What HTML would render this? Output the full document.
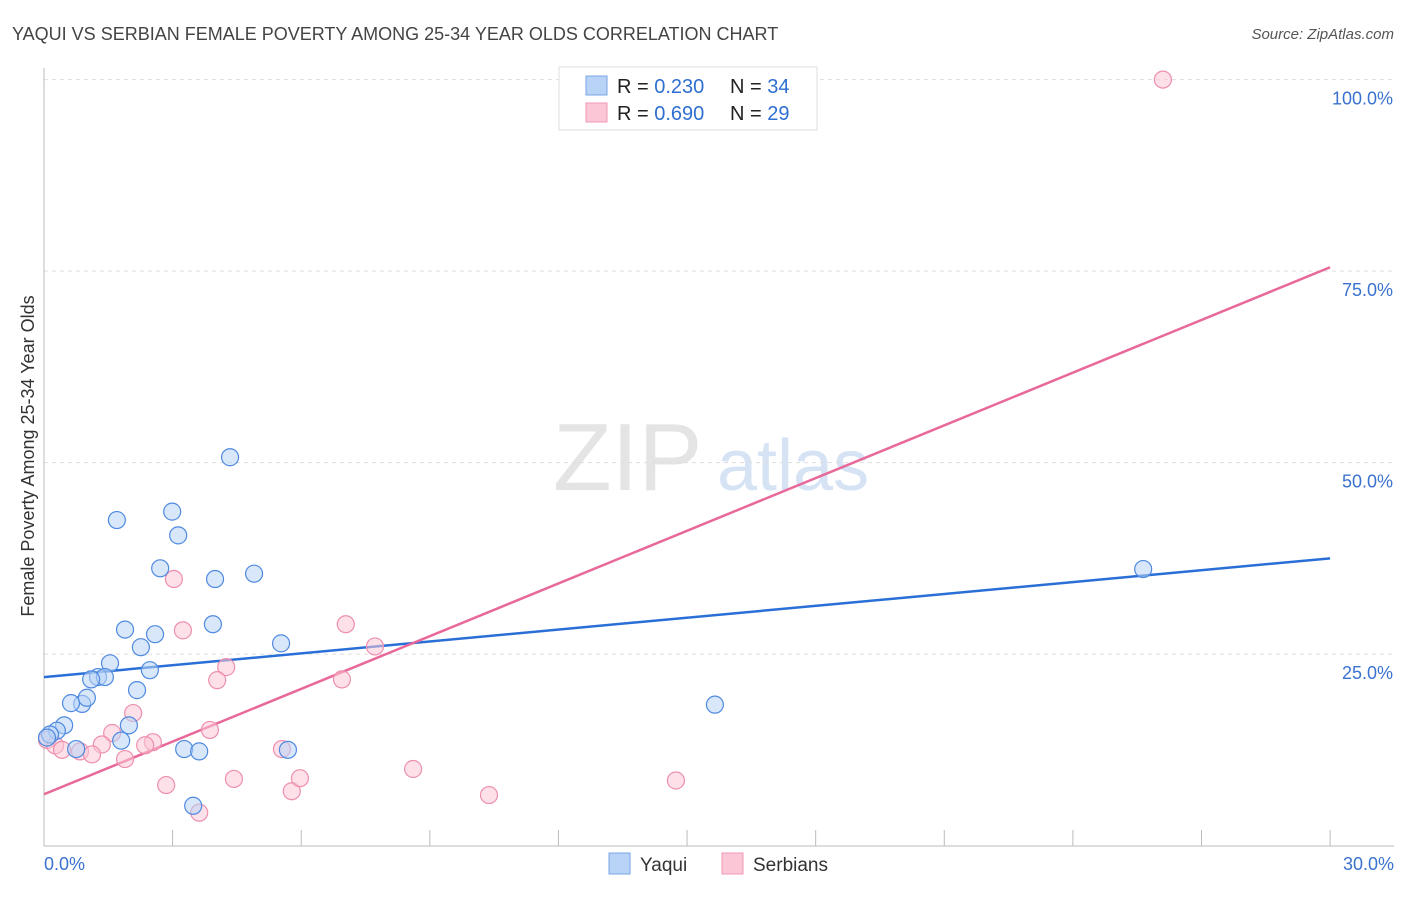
<!DOCTYPE html>
<html><head><meta charset="utf-8">
<style>
body{margin:0;background:#fff;font-family:"Liberation Sans",sans-serif;}
svg text{font-family:"Liberation Sans",sans-serif;}
</style></head>
<body>
<svg id="chart" width="1406" height="892" viewBox="0 0 1406 892">
<text x="12" y="40" font-size="18" fill="#444">YAQUI VS SERBIAN FEMALE POVERTY AMONG 25-34 YEAR OLDS CORRELATION CHART</text>
<text x="1394" y="39" font-size="15" fill="#555" text-anchor="end" font-style="italic">Source: ZipAtlas.com</text>
<g>
<text x="553" y="490" font-size="96" fill="#e4e4e4" font-family="Liberation Serif,serif">ZIP</text>
<text x="717" y="490" font-size="72" fill="#d6e3f5">atlas</text>
</g>
<g id="grid"></g>
<g id="axes"></g>
<g id="lines"></g>
<g id="pts"></g>
<text transform="translate(34,456) rotate(-90)" font-size="18" fill="#333" text-anchor="middle">Female Poverty Among 25-34 Year Olds</text>
<g>
<rect x="559" y="67" width="258" height="63" fill="#fff" stroke="#ddd"/>
<rect x="586" y="76" width="21" height="19" fill="#b8d3f5" stroke="#7aa6e6"/>
<rect x="586" y="103" width="21" height="19" fill="#fbc6d6" stroke="#f09ab5"/>
<text x="617" y="93" font-size="20" fill="#222">R = <tspan fill="#2f6fd0">0.230</tspan></text>
<text x="730" y="93" font-size="20" fill="#222">N = <tspan fill="#2f6fd0">34</tspan></text>
<text x="617" y="120" font-size="20" fill="#222">R = <tspan fill="#2f6fd0">0.690</tspan></text>
<text x="730" y="120" font-size="20" fill="#222">N = <tspan fill="#2f6fd0">29</tspan></text>
</g>
<g>
<rect x="609" y="853" width="21" height="21" fill="#b8d3f5" stroke="#7aa6e6"/>
<text x="640" y="871" font-size="19" fill="#333">Yaqui</text>
<rect x="722" y="853" width="21" height="21" fill="#fbc6d6" stroke="#f09ab5"/>
<text x="753" y="871" font-size="19" fill="#333">Serbians</text>
</g>
</svg>
<script>
const yTicks=[25,50,75,100];
const yTickLabels=["25.0%","50.0%","75.0%","100.0%"];
const xTicks=[0,3,6,9,12,15,18,21,24,27,30];
const xEndLabels=["0.0%","30.0%"];
const yaquiX=[4.34,1.70,2.99,3.13,2.71,3.99,4.90,1.89,2.59,3.94,2.26,5.53,1.54,2.47,1.26,1.42,1.10,2.17,0.89,0.63,1.00,1.98,0.47,0.30,0.14,0.07,1.80,0.75,3.27,3.62,5.69,3.48,15.65,25.64];
const yaquiY=[50.7,42.5,43.6,40.5,36.2,34.8,35.5,28.2,27.6,28.9,25.9,26.4,23.8,22.9,22.0,22.0,21.7,20.3,18.5,18.6,19.3,15.7,15.7,15.0,14.5,14.1,13.7,12.6,12.6,12.3,12.5,5.2,18.4,36.1];
const serbX=[26.10,3.03,3.24,7.04,7.72,4.25,4.04,6.95,2.08,3.87,1.59,2.54,2.36,1.35,5.55,0.07,0.26,0.42,0.84,1.12,1.89,2.85,4.43,5.78,5.97,8.61,10.38,14.74,3.62];
const serbY=[100.0,34.8,28.1,28.9,26.0,23.3,21.6,21.7,17.3,15.1,14.7,13.5,13.1,13.2,12.6,13.8,13.1,12.5,12.3,11.9,11.3,7.9,8.7,7.1,8.8,10.0,6.6,8.5,4.3];
const yaquiTrend=[22.0,37.5];
const serbTrend=[6.7,75.5];
const NS="http://www.w3.org/2000/svg";
const X=v=>44+v*42.87, Y=v=>845.6-v*7.66;
function mk(tag,attrs,parent){const e=document.createElementNS(NS,tag);for(const k in attrs)e.setAttribute(k,attrs[k]);document.getElementById(parent).appendChild(e);return e;}
yTicks.forEach((t,i)=>{
 const g=mk('line',{x1:44,x2:1394,y1:Y(t),y2:Y(t),stroke:'#ddd','stroke-dasharray':'4,4'},'grid');
 
 
 const l=mk('text',{x:1393,y:Y(t)+25,'font-size':18,fill:'#3b72d0','text-anchor':'end'},'axes');
 l.textContent=yTickLabels[i];
 
 
});
const ax=mk('line',{x1:44,x2:44,y1:68,y2:846,stroke:'#bbb'},'axes');


const bx=mk('line',{x1:44,x2:1394,y1:846,y2:846,stroke:'#bbb'},'axes');


xTicks.forEach(t=>{
 const tk=mk('line',{x1:X(t),x2:X(t),y1:830,y2:846,stroke:'#bbb'},'axes');
 
 
});
const xl0=mk('text',{x:44,y:870,'font-size':18,fill:'#3b72d0'},'axes');xl0.textContent=xEndLabels[0];


const xl1=mk('text',{x:1394,y:870,'font-size':18,fill:'#3b72d0','text-anchor':'end'},'axes');xl1.textContent=xEndLabels[1];


function pts(xs,ys,fill,stroke,name){xs.forEach((x,i)=>{
 const c=mk('circle',{cx:X(x),cy:Y(ys[i]),r:8.5,fill:fill,'fill-opacity':0.55,stroke:stroke,'stroke-width':1.2},'pts');
 
 
});}
pts(serbX,serbY,'#fbc6d6','#ee8fae','serbian-point');
pts(yaquiX,yaquiY,'#b8d3f5','#4f8ae0','yaqui-point');
const l1=mk('line',{x1:X(0),x2:X(30),y1:Y(yaquiTrend[0]),y2:Y(yaquiTrend[1]),stroke:'#2a6fd6','stroke-width':2.5},'lines');


const l2=mk('line',{x1:X(0),x2:X(30),y1:Y(serbTrend[0]),y2:Y(serbTrend[1]),stroke:'#e8689a','stroke-width':2.5},'lines');


</script>
</body></html>
